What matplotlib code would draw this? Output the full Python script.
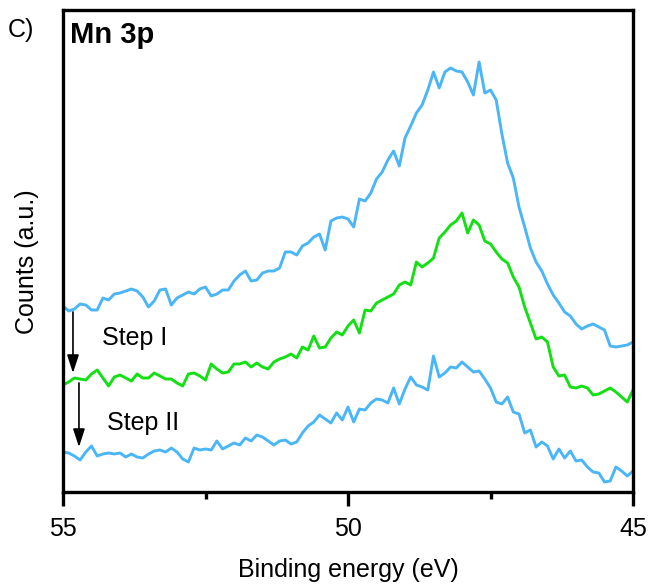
import numpy as np
import matplotlib
matplotlib.use("Agg")
import matplotlib.pyplot as plt
from matplotlib.ticker import FixedLocator

plt.rcParams['font.family'] = ['Liberation Sans', 'DejaVu Sans']

# Binding energy grid, 55.0 -> 45.0 eV in 0.1 eV steps
energy = np.round(np.linspace(55.0, 45.0, 101), 2)

# Top curve (blue, initial)
counts_initial = [186, 181, 183, 188, 187, 182, 182, 194, 192, 198,
                  199, 201, 203, 201, 195, 185, 191, 202, 203, 187,
                  194, 197, 200, 198, 203, 205, 196, 198, 202, 202,
                  211, 217, 221, 211, 212, 219, 221, 221, 224, 240,
                  240, 237, 246, 249, 255, 258, 242, 271, 274, 275,
                  273, 265, 293, 291, 299, 313, 320, 332, 341, 326,
                  354, 366, 379, 387, 402, 420, 404, 420, 424, 421,
                  420, 410, 397, 430, 399, 402, 392, 358, 329, 314,
                  285, 265, 244, 230, 221, 208, 197, 189, 180, 176,
                  168, 163, 166, 168, 165, 162, 146, 145, 146, 147,
                  150]

# Middle curve (green, after Step I)
counts_step1 = [107, 110, 114, 113, 112, 118, 122, 114, 106, 115,
                117, 114, 111, 118, 114, 114, 119, 116, 113, 113,
                109, 106, 118, 119, 116, 112, 128, 123, 119, 120,
                128, 128, 130, 125, 129, 125, 123, 130, 133, 135,
                138, 134, 145, 142, 156, 144, 145, 154, 160, 157,
                166, 172, 159, 182, 181, 189, 192, 195, 198, 207,
                210, 207, 230, 225, 229, 234, 254, 260, 267, 271,
                279, 259, 272, 267, 251, 248, 240, 233, 229, 215,
                205, 185, 169, 153, 155, 150, 125, 116, 117, 105,
                104, 106, 104, 97, 98, 101, 104, 100, 95, 90,
                102]

# Bottom curve (blue, after Step II)
counts_step2 = [40, 39, 36, 32, 40, 46, 36, 38, 39, 38,
                39, 35, 38, 35, 34, 38, 41, 42, 40, 44,
                40, 33, 30, 44, 42, 43, 42, 51, 43, 46,
                49, 47, 54, 51, 57, 55, 51, 47, 51, 52,
                48, 50, 59, 66, 70, 77, 73, 69, 79, 72,
                85, 70, 83, 82, 89, 93, 92, 89, 104, 88,
                103, 115, 107, 105, 102, 136, 115, 119, 125, 124,
                130, 125, 120, 121, 113, 104, 90, 88, 95, 80,
                78, 59, 62, 45, 50, 46, 33, 43, 34, 41,
                31, 32, 25, 20, 19, 10, 11, 25, 21, 16,
                21]

x_ticks = [55, 50, 45]
x_minor = [52.5, 47.5]

blue = '#4ab6f7'
green = '#12e012'

fig = plt.figure(figsize=(6.55, 5.88), dpi=100)
ax = fig.add_axes([63/655, 1 - 492/588, 570/655, 482/588])

ax.plot(energy, counts_initial, color=blue, lw=2.1)
ax.plot(energy, counts_step1, color=green, lw=2.1)
ax.plot(energy, counts_step2, color=blue, lw=2.1)

ax.set_xlim(55, 45)
ax.set_ylim(0, 482)

ax.xaxis.set_major_locator(FixedLocator(x_ticks))
ax.xaxis.set_minor_locator(FixedLocator(x_minor))
ax.set_xticklabels([str(t) for t in x_ticks])
ax.set_yticks([])

for s in ax.spines.values():
    s.set_linewidth(2.4)
ax.tick_params(axis='x', which='major', direction='out', length=10, width=2.4,
               labelsize=18, pad=8)
ax.tick_params(axis='x', which='minor', direction='out', length=5, width=2.4)

ax.set_xlabel('Binding energy (eV)', fontsize=18, labelpad=12)
ax.set_ylabel('Counts (a.u.)', fontsize=18)
ax.yaxis.set_label_coords(-0.042, 0.477)

# Arrows for steps
arrow_kw = dict(arrowstyle='-|>,head_length=1.1,head_width=0.36', color='black', lw=1.2,
                shrinkA=0, shrinkB=0)
ax.annotate('', xy=(54.825, 119), xytext=(54.825, 180), arrowprops=arrow_kw)
ax.annotate('', xy=(54.72, 45), xytext=(54.72, 109), arrowprops=arrow_kw)

ax.text(54.316, 147, 'Step I', fontsize=18, ha='left', va='baseline')
ax.text(54.228, 62, 'Step II', fontsize=18, ha='left', va='baseline')

ax.text(7/570, (492-43)/482, 'Mn 3p', transform=ax.transAxes, fontsize=21,
        fontweight='bold', ha='left', va='baseline')
fig.text(8/655, (588-37)/588, 'C)', fontsize=18, ha='left', va='baseline')

fig.savefig('out.png', dpi=100)
